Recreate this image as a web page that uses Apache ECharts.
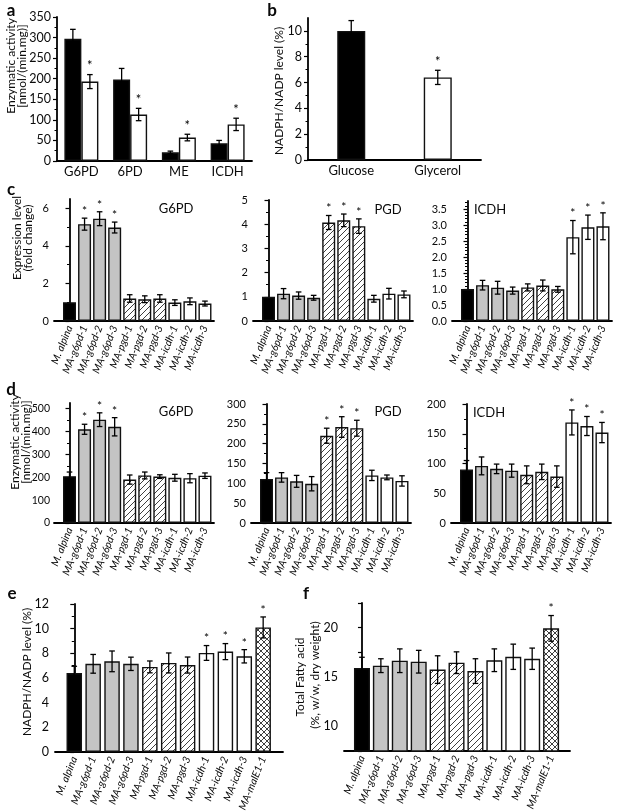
<!DOCTYPE html>
<html><head><meta charset="utf-8">
<script src="https://cdn.jsdelivr.net/npm/echarts@6/dist/echarts.min.js"></script>
<style>html,body{margin:0;padding:0;background:#fff}#c{width:617px;height:812px}</style>
</head><body><div id="c"></div>
<script>
// ---------------- DATA ----------------
const aCategories = ['G6PD', '6PD', 'ME', 'ICDH'];
const aGlucose = [297, 198, 21, 43];
const aGlucoseErr = [23, 27, 3, 7];
const aGlycerol = [193, 113, 57, 89];
const aGlycerolErr = [17, 15, 8, 15];
const aGlycerolStar = [1, 1, 1, 1];

const bCategories = ['Glucose', 'Glycerol'];
const bValues = [10.0, 6.4];
const bErr = [0.8, 0.55];
const bStar = [0, 1];

const strains = ['M. alpina', 'MA-g6pd-1', 'MA-g6pd-2', 'MA-g6pd-3', 'MA-pgd-1', 'MA-pgd-2', 'MA-pgd-3', 'MA-icdh-1', 'MA-icdh-2', 'MA-icdh-3'];
const strainsMal = ['M. alpina', 'MA-g6pd-1', 'MA-g6pd-2', 'MA-g6pd-3', 'MA-pgd-1', 'MA-pgd-2', 'MA-pgd-3', 'MA-icdh-1', 'MA-icdh-2', 'MA-icdh-3', 'MA-malE1-1'];
const strainGroup = [0, 1, 1, 1, 2, 2, 2, 3, 3, 3, 4];

const cG6pd = [1.0, 5.16, 5.45, 4.98, 1.2, 1.16, 1.2, 0.98, 1.05, 0.93];
const cG6pdErr = [0, 0.32, 0.37, 0.29, 0.2, 0.18, 0.2, 0.15, 0.18, 0.13];
const cG6pdStar = [0, 1, 1, 1, 0, 0, 0, 0, 0, 0];

const cPgd = [1.0, 1.13, 1.05, 0.96, 4.07, 4.16, 3.92, 0.92, 1.13, 1.1];
const cPgdErr = [0, 0.21, 0.15, 0.1, 0.29, 0.26, 0.3, 0.14, 0.22, 0.14];
const cPgdStar = [0, 0, 0, 0, 1, 1, 1, 0, 0, 0];

const cIcdh = [1.0, 1.12, 1.04, 0.95, 1.05, 1.11, 0.99, 2.62, 2.93, 2.96];
const cIcdhErr = [0, 0.15, 0.2, 0.11, 0.11, 0.17, 0.09, 0.52, 0.38, 0.42];
const cIcdhStar = [0, 0, 0, 0, 0, 0, 0, 1, 1, 1];

const dG6pd = [205, 410, 452, 421, 190, 208, 203, 198, 196, 207];
const dG6pdErr = [18, 22, 30, 40, 20, 15, 8, 15, 20, 12];
const dG6pdStar = [0, 1, 1, 1, 0, 0, 0, 0, 0, 0];

const dPgd = [111, 115, 105, 99, 220, 242, 239, 120, 115, 106];
const dPgdErr = [16, 12, 15, 18, 19, 26, 20, 13, 6, 13];
const dPgdStar = [0, 0, 0, 0, 1, 1, 1, 0, 0, 0];

const dIcdh = [90, 96, 91, 88, 81, 86, 78, 169, 163, 152];
const dIcdhErr = [15, 15, 8, 11, 15, 13, 18, 21, 16, 17];
const dIcdhStar = [0, 0, 0, 0, 0, 0, 0, 1, 1, 1];

const eNadph = [6.4, 7.15, 7.35, 7.15, 6.9, 7.22, 7.05, 8.03, 8.14, 7.76, 10.1];
const eNadphErr = [0.55, 0.76, 0.84, 0.54, 0.48, 0.81, 0.65, 0.6, 0.65, 0.54, 0.85];
const eNadphStar = [0, 0, 0, 0, 0, 0, 0, 1, 1, 1, 1];

const fFatty = [15.9, 16.15, 16.65, 16.55, 15.75, 16.45, 15.6, 16.7, 17.05, 16.85, 19.93];
const fFattyErr = [1.1, 0.7, 1.2, 1.15, 1.4, 1.1, 1.25, 1.15, 1.28, 1.08, 1.3];
const fFattyStar = [0, 0, 0, 0, 0, 0, 0, 0, 0, 0, 1];

// ---------------- STYLE HELPERS ----------------
const FONT = 'Lato, "Open Sans", sans-serif';
const INK = '#0a0a0a';
function makePattern(cross) {
  const s = 6, cv = document.createElement('canvas');
  cv.width = s; cv.height = s;
  const ctx = cv.getContext('2d');
  ctx.fillStyle = '#fff'; ctx.fillRect(0, 0, s, s);
  ctx.strokeStyle = '#2a2a2a'; ctx.lineWidth = 0.9;
  ctx.beginPath();
  ctx.moveTo(0, s); ctx.lineTo(s, 0);
  ctx.moveTo(-1, 1); ctx.lineTo(1, -1);
  ctx.moveTo(s - 1, s + 1); ctx.lineTo(s + 1, s - 1);
  if (cross) {
    ctx.moveTo(0, 0); ctx.lineTo(s, s);
    ctx.moveTo(-1, s - 1); ctx.lineTo(1, s + 1);
    ctx.moveTo(s - 1, -1); ctx.lineTo(s + 1, 1);
  }
  ctx.stroke();
  return cv;
}
const hatchImg = makePattern(false), crossImg = makePattern(true);
const groupFill = [
  '#000000', '#c4c4c4',
  { image: hatchImg, repeat: 'repeat' },
  '#ffffff',
  { image: crossImg, repeat: 'repeat' }
];
const BORDER = { borderColor: '#111', borderWidth: 1.4 };

function fmtNum(decimals, interval) {
  return function (v) {
    const r = v / interval;
    if (Math.abs(r - Math.round(r)) > 1e-6) return '';
    return decimals ? v.toFixed(decimals) : String(Math.round(v));
  };
}
function multiples(min, max, step) {
  const out = [];
  for (let k = Math.ceil(min / step - 1e-9); k * step <= max + 1e-9; k++) out.push(+(k * step).toFixed(6));
  return out;
}

function yAxisCfg(gi, ymin, ymax, interval, minorSplit, decimals, fontSize, margin) {
  return {
    type: 'value', gridIndex: gi, min: ymin, max: ymax, interval: interval,
    axisLine: { show: true, lineStyle: { color: '#000', width: 1.8 } },
    axisTick: { show: true, length: 4, inside: false, lineStyle: { color: '#000', width: 1.2 }, customValues: multiples(ymin, ymax, interval) },
    minorTick: { show: minorSplit > 1, splitNumber: minorSplit, length: 2.5, lineStyle: { color: '#000', width: 1 } },
    splitLine: { show: false },
    axisLabel: { fontFamily: FONT, fontSize: fontSize || 12.5, color: INK, margin: margin || 6, formatter: fmtNum(decimals, interval), showMaxLabel: true }
  };
}

function errorRender(offsetPx, starSize, starGap) {
  return function (params, api) {
    const x = api.value(0), v = api.value(1), e = api.value(2), s = api.value(3);
    const top = api.coord([x, v + e]);
    const bot = api.coord([x, v - e]);
    const cx = top[0] + offsetPx;
    const children = [];
    const ls = { stroke: '#000', lineWidth: 1.3 };
    if (e > 0) {
      children.push({ type: 'line', shape: { x1: cx, y1: top[1], x2: cx, y2: bot[1] }, style: ls });
      children.push({ type: 'line', shape: { x1: cx - 2.8, y1: top[1], x2: cx + 2.8, y2: top[1] }, style: ls });
      children.push({ type: 'line', shape: { x1: cx - 2.8, y1: bot[1], x2: cx + 2.8, y2: bot[1] }, style: ls });
    }
    if (s) {
      children.push({ type: 'text', style: { x: cx, y: top[1] - starGap, text: '*', fill: '#000', font: starSize + 'px ' + FONT, align: 'center', verticalAlign: 'bottom' } });
    }
    return { type: 'group', children: children };
  };
}

// ---------------- BUILD OPTION ----------------
const grid = [], xAxis = [], yAxis = [], series = [];

// Panel a
grid.push({ left: 57, top: 17, width: 195, height: 144 });
xAxis.push({ type: 'category', gridIndex: 0, data: aCategories,
  axisLine: { lineStyle: { color: '#000', width: 1.8 } }, axisTick: { show: false },
  axisLabel: { fontFamily: FONT, fontSize: 13, color: INK, margin: 4 } });
yAxis.push(yAxisCfg(0, 0, 350, 50, 2, 0, 12.5, 6));
series.push({ type: 'bar', xAxisIndex: 0, yAxisIndex: 0, data: aGlucose, barWidth: 17, barGap: '0%',
  itemStyle: Object.assign({ color: groupFill[0] }, BORDER) });
series.push({ type: 'bar', xAxisIndex: 0, yAxisIndex: 0, data: aGlycerol, barWidth: 17, barGap: '0%',
  itemStyle: Object.assign({ color: groupFill[3] }, BORDER) });
series.push({ type: 'custom', xAxisIndex: 0, yAxisIndex: 0, z: 5, clip: false,
  renderItem: errorRender(-8.5, 13, 2), data: aGlucose.map((v, i) => [i, v, aGlucoseErr[i], 0]) });
series.push({ type: 'custom', xAxisIndex: 0, yAxisIndex: 0, z: 5, clip: false,
  renderItem: errorRender(8.5, 13, 2), data: aGlycerol.map((v, i) => [i, v, aGlycerolErr[i], aGlycerolStar[i]]) });

// Panel b
grid.push({ left: 308, top: 18, width: 173, height: 142 });
xAxis.push({ type: 'category', gridIndex: 1, data: bCategories,
  axisLine: { lineStyle: { color: '#000', width: 1.8 } }, axisTick: { show: false },
  axisLabel: { fontFamily: FONT, fontSize: 13, color: INK, margin: 4 } });
yAxis.push(yAxisCfg(1, 0, 11, 2, 2, 0, 12.5, 6));
series.push({ type: 'bar', xAxisIndex: 1, yAxisIndex: 1, barWidth: 28,
  data: bValues.map((v, i) => ({ value: v, itemStyle: Object.assign({ color: groupFill[i === 0 ? 0 : 3] }, BORDER) })) });
series.push({ type: 'custom', xAxisIndex: 1, yAxisIndex: 1, z: 5, clip: false,
  renderItem: errorRender(0, 13, 2), data: bValues.map((v, i) => [i, v, bErr[i], bStar[i]]) });

// Strain panels (c, d, e, f)
const strainPanels = [
  { grid: { left: 54, top: 199, width: 160, height: 122 }, xmin: -1.03, xmax: 9.6, names: strains, vals: cG6pd, err: cG6pdErr, star: cG6pdStar, y: [0, 6.5, 2, 2, 0], barW: 13, fs: 11, mg: 5 },
  { grid: { left: 253, top: 200, width: 160, height: 121 }, xmin: -1.03, xmax: 9.6, names: strains, vals: cPgd, err: cPgdErr, star: cPgdStar, y: [0, 5, 1, 2, 0], barW: 13, fs: 11, mg: 5 },
  { grid: { left: 452, top: 201, width: 160, height: 120 }, xmin: -1.03, xmax: 9.6, names: strains, vals: cIcdh, err: cIcdhErr, star: cIcdhStar, y: [0, 3.75, 0.5, 5, 1], barW: 13, fs: 11, mg: 5 },
  { grid: { left: 54, top: 403, width: 160, height: 120 }, xmin: -1.03, xmax: 9.6, names: strains, vals: dG6pd, err: dG6pdErr, star: dG6pdStar, y: [0, 525, 100, 2, 0], barW: 13, fs: 10.5, mg: 4 },
  { grid: { left: 251, top: 404, width: 160, height: 119 }, xmin: -1.03, xmax: 9.6, names: strains, vals: dPgd, err: dPgdErr, star: dPgdStar, y: [0, 300, 50, 2, 0], barW: 13, fs: 11, mg: 5 },
  { grid: { left: 451, top: 404, width: 160, height: 119 }, xmin: -1.03, xmax: 9.6, names: strains, vals: dIcdh, err: dIcdhErr, star: dIcdhStar, y: [0, 200, 50, 2, 0], barW: 13, fs: 11, mg: 5 },
  { grid: { left: 55, top: 604, width: 228, height: 148 }, xmin: -1.02, xmax: 11.05, names: strainsMal, vals: eNadph, err: eNadphErr, star: eNadphStar, y: [0, 12, 2, 2, 0], barW: 15.5, fs: 12.5, mg: 6 },
  { grid: { left: 344, top: 603, width: 226, height: 148 }, xmin: -0.95, xmax: 11.0, names: strainsMal, vals: fFatty, err: fFattyErr, star: fFattyStar, y: [7.5, 22.5, 2.5, 1, 0], barW: 16, labelStep: 5, fs: 12.5, mg: 6 }
];

strainPanels.forEach((p, k) => {
  const gi = grid.length;
  grid.push(p.grid);
  const idx = p.names.map((_, i) => i);
  xAxis.push({ type: 'value', gridIndex: gi, min: p.xmin, max: p.xmax,
    axisLine: { show: true, onZero: false, lineStyle: { color: '#000', width: 1.8 } },
    axisTick: { show: false }, splitLine: { show: false },
    axisLabel: { customValues: idx, rotate: 68, margin: 5, fontFamily: FONT, fontSize: 10.5, fontStyle: 'italic', color: INK,
      formatter: v => p.names[Math.round(v)] } });
  const ya = yAxisCfg(gi, p.y[0], p.y[1], p.y[2], p.y[3], p.y[4], p.fs, p.mg);
  if (p.labelStep) ya.axisLabel.formatter = fmtNum(0, p.labelStep);
  yAxis.push(ya);
  series.push({ type: 'bar', xAxisIndex: gi, yAxisIndex: gi, barWidth: p.barW,
    data: p.vals.map((v, i) => ({ value: [i, v], itemStyle: Object.assign({ color: groupFill[strainGroup[i]] }, BORDER) })) });
  series.push({ type: 'custom', xAxisIndex: gi, yAxisIndex: gi, z: 5, clip: false,
    renderItem: errorRender(0, 12, 1), data: p.vals.map((v, i) => [i, v, p.err[i], p.star[i]]) });
});

// ---------------- TEXT (titles, panel letters) ----------------
function txt(x, y, s, size, opts) {
  return Object.assign({ type: 'text', x: x, y: y, style: { text: s, font: (opts && opts.weight ? opts.weight + ' ' : '') + size + 'px ' + FONT, fill: INK, align: 'center', verticalAlign: 'middle' } }, opts && opts.rot ? { rotation: Math.PI / 2 } : {});
}
const TS = 12;
const graphic = [
  txt(11, 11, 'a', 17, { weight: 'bold' }),
  txt(272, 11, 'b', 17, { weight: 'bold' }),
  txt(11, 190, 'c', 17, { weight: 'bold' }),
  txt(11, 390, 'd', 17, { weight: 'bold' }),
  txt(12, 594, 'e', 17, { weight: 'bold' }),
  txt(306, 594, 'f', 17, { weight: 'bold' }),
  txt(11, 66, 'Enzymatic activity', TS, { rot: 1 }),
  txt(22, 66, '[nmol/(min.mg)]', TS, { rot: 1 }),
  txt(279, 91, 'NADPH/NADP level (%)', TS, { rot: 1 }),
  txt(17, 238, 'Expression level', TS, { rot: 1 }),
  txt(28, 238, '(fold change)', TS, { rot: 1 }),
  txt(15, 442, 'Enzymatic activity', TS, { rot: 1 }),
  txt(26, 442, '[nmol/(min.mg)]', TS, { rot: 1 }),
  txt(27, 672, 'NADPH/NADP level (%)', TS, { rot: 1 }),
  txt(300, 677, 'Total Fatty acid', TS, { rot: 1 }),
  txt(315, 675, '(%, w/w, dry weight)', TS, { rot: 1 }),
  txt(176, 209, 'G6PD', 13),
  txt(388, 210, 'PGD', 13),
  txt(490, 210, 'ICDH', 13),
  txt(176, 412, 'G6PD', 13),
  txt(388, 412, 'PGD', 13),
  txt(489, 413, 'ICDH', 13)
];
grid.forEach(g => { g.outerBoundsMode = 'none'; g.containLabel = false; });

const chart = echarts.init(document.getElementById('c'), null, { renderer: 'canvas' });
chart.setOption({
  animation: false,
  backgroundColor: '#fff',
  textStyle: { fontFamily: FONT },
  grid: grid, xAxis: xAxis, yAxis: yAxis, series: series, graphic: graphic
});
</script>
</body></html>
